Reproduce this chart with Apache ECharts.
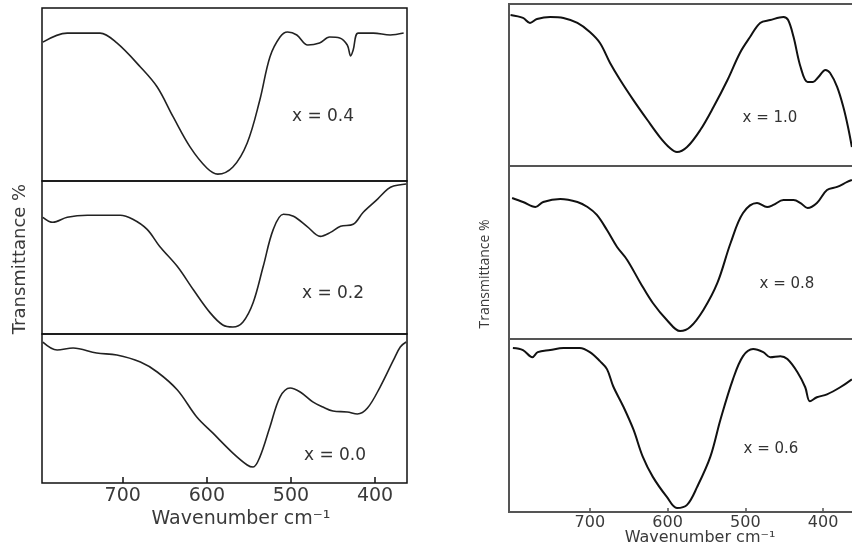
<!DOCTYPE html>
<html>
<head>
<meta charset="utf-8">
<script src="https://cdn.jsdelivr.net/npm/echarts@6/dist/echarts.min.js"></script>
<style>html,body{margin:0;padding:0;background:#fff}#c{width:852px;height:546px}</style>
</head>
<body>
<div id="c"></div>
<script>
// ---- data (wavenumber cm-1, relative transmittance 0-100 within each panel) ----
const tickValues = [400, 500, 600, 700];
const labels = ['x = 0.4', 'x = 0.2', 'x = 0.0', 'x = 1.0', 'x = 0.8', 'x = 0.6'];

const wn04 = [795,766,727,707,679,659,640,620,600,587,569,552,537,525,513,504,493,480,466,454,442,433,429,426,420,402,382,366];
const t04  = [80.3,85.5,85.5,79.8,65.9,54.3,37,19.7,7.5,4,8.1,22,46.8,71.7,83.2,86.1,84.4,78.6,79.8,83.2,82.7,78.6,72.3,75.7,85.5,85.5,84.4,85.5];

const wn02 = [795,783,766,742,703,688,671,656,635,616,596,581,569,557,545,533,521,509,497,481,465,453,441,426,414,397,385,378,363];
const t02  = [76.3,73,76.3,77.6,77.6,75,68.4,57.2,44.1,28.9,13.8,5.9,4.6,7.9,20.4,44.1,68.4,78.3,77,70.4,63.8,66.4,70.4,71.7,79.6,88.2,94.7,96.7,98];

const wn00 = [795,778,759,731,707,679,659,635,612,593,569,552,545,537,525,513,501,489,474,462,450,433,421,409,394,378,370,363];
const t00  = [94.6,89.3,90.6,87.2,85.9,81.2,74.5,62.4,44.3,33.6,20.1,12.1,10.7,17.4,37.6,57.7,63.8,61.1,54.4,51,48.3,47.7,46.3,50.3,64.4,82.6,91.3,94.6];

const wn10 = [802,786,777,768,751,734,716,700,687,674,661,644,626,610,597,588,575,558,541,523,507,494,481,468,451,445,438,429,420,413,406,397,391,382,374,368,363];
const t10  = [93.2,91.4,88.3,90.7,92,91.4,88.3,82.7,75.9,63.6,53.1,40.7,28.4,17.9,11.1,8.6,11.7,22.2,36.4,53.1,69.8,79.6,88.3,90.1,92,90.1,79.6,61.1,51.9,51.9,54.9,59.3,57.4,48.8,36.4,24.1,11.7];

const wn08 = [800,786,770,760,738,716,703,691,678,665,652,635,619,601,584,571,554,536,519,503,485,472,464,451,438,429,420,408,395,382,369,363];
const t08  = [81.5,79.2,76.3,79.2,80.9,79.2,76.3,71.7,63,53.2,45.7,32.4,20.8,11,4.6,6.9,16.8,32.4,55.5,72.8,78.6,76.3,77.5,80.3,80.3,78.6,75.7,78.6,86.1,87.9,90.8,91.9];

const wn06 = [799,786,774,767,751,734,713,700,687,678,670,657,644,632,619,601,588,575,562,545,532,516,503,490,477,468,455,446,433,423,417,408,395,378,363];
const t06  = [94.8,93.6,89.5,92.4,93.6,94.8,94.8,92.4,87.2,82.6,72.7,61,47.7,32,20.3,8.7,2.3,4.1,14.5,32,53.5,76.7,90.1,94.2,92.4,89.5,90.1,88.4,80.8,72.1,64,66.3,68,72.1,76.7];

const seriesWn = [wn04, wn02, wn00, wn10, wn08, wn06];
const seriesT  = [t04, t02, t00, t10, t08, t06];

// ---- layout ----
const grids = [
  {left: 42, top: 8,   width: 365, height: 173},
  {left: 42, top: 181, width: 365, height: 153},
  {left: 42, top: 334, width: 365, height: 149},
  {left: 509, top: 4,   width: 346, height: 162},
  {left: 509, top: 166, width: 346, height: 173},
  {left: 509, top: 339, width: 346, height: 173}
];
const xRange = [[362, 796], [362, 796], [362, 796], [359, 804], [359, 804], [359, 804]];
const labelPos = [[323,117],[333,294],[335,456],[770,118],[787,284],[771,449]];

const chart = echarts.init(document.getElementById('c'), null, {renderer: 'canvas'});
const isLeft = i => i < 3;
const isBottom = i => i === 2 || i === 5;

const option = {
  animation: false,
  backgroundColor: '#fff',
  grid: grids.map((g, i) => Object.assign({
    show: true,
    outerBoundsMode: 'none',
    containLabel: false,
    borderColor: isLeft(i) ? '#111' : '#555',
    borderWidth: isLeft(i) ? 1.5 : 2,
    backgroundColor: 'transparent'
  }, g)),
  xAxis: grids.map((g, i) => ({
    type: 'value', gridIndex: i, inverse: true,
    min: xRange[i][0], max: xRange[i][1],
    axisLine: {show: false},
    splitLine: {show: false},
    axisTick: {
      show: isBottom(i), inside: true, length: isLeft(i) ? 6 : 4,
      customValues: tickValues,
      lineStyle: {color: isLeft(i) ? '#111' : '#555', width: 1.5}
    },
    axisLabel: {
      show: isBottom(i), customValues: tickValues,
      margin: isLeft(i) ? 4 : 3,
      fontFamily: 'DejaVu Sans',
      fontSize: isLeft(i) ? 19 : 16,
      color: '#3a3a3a'
    }
  })),
  yAxis: grids.map((g, i) => ({
    type: 'value', gridIndex: i, min: 0, max: 100,
    show: false, splitLine: {show: false}
  })),
  series: seriesWn.map((wn, i) => ({
    type: 'line', xAxisIndex: i, yAxisIndex: i,
    data: wn.map((w, k) => [w, seriesT[i][k]]),
    showSymbol: false, smooth: 0.35,
    lineStyle: {color: isLeft(i) ? '#222' : '#111', width: isLeft(i) ? 1.6 : 2},
    silent: true
  })),
  graphic: [
    ...labels.map((t, i) => ({
      type: 'text', x: labelPos[i][0], y: labelPos[i][1],
      style: {
        text: t, textAlign: 'center', textVerticalAlign: 'middle',
        font: (isLeft(i) ? '17px' : '15px') + ' "DejaVu Sans"',
        fill: '#333'
      }
    })),
    {type: 'text', x: 241, y: 519, style: {text: 'Wavenumber cm⁻¹', textAlign: 'center', textVerticalAlign: 'middle', font: '19px "DejaVu Sans"', fill: '#3a3a3a'}},
    {type: 'text', x: 700, y: 538, style: {text: 'Wavenumber cm⁻¹', textAlign: 'center', textVerticalAlign: 'middle', font: '16px "DejaVu Sans"', fill: '#3a3a3a'}},
    {type: 'text', x: 20, y: 259, rotation: Math.PI / 2, style: {text: 'Transmittance %', textAlign: 'center', textVerticalAlign: 'middle', font: '18px "DejaVu Sans"', fill: '#3a3a3a'}},
    {type: 'text', x: 485, y: 274, rotation: Math.PI / 2, style: {text: 'Transmittance %', textAlign: 'center', textVerticalAlign: 'middle', font: '14px "Open Sans"', fill: '#3a3a3a'}}
  ]
};
chart.setOption(option);
</script>
</body>
</html>
